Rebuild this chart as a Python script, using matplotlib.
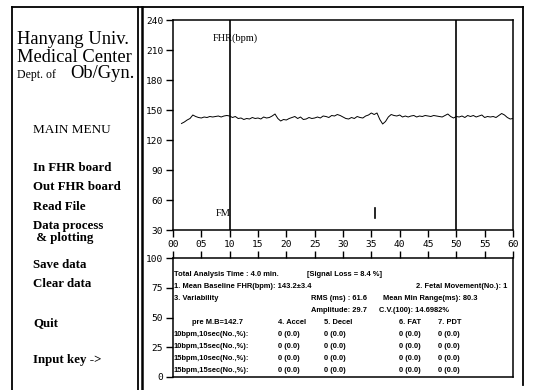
import matplotlib
matplotlib.use('Agg')
import matplotlib.pyplot as plt
import numpy as np

# FHR trace, sampled every 0.5 min starting at 1.5 min
t_start, t_step = 1.5, 0.5
fhr = [136.5, 138.0, 140.0, 141.5, 145.0, 143.5, 142.5, 142.0, 143.0, 142.5,
       143.5, 143.0, 143.5, 144.0, 143.0, 144.0, 144.5, 144.0, 142.5, 143.5,
       141.5, 142.0, 140.5, 141.5, 141.0, 142.5, 141.5, 142.0, 141.0, 143.0,
       142.0, 142.5, 144.0, 146.0, 141.5, 139.0, 140.5, 140.0, 141.5, 142.5,
       143.5, 141.5, 143.0, 140.5, 141.0, 142.5, 141.5, 142.0, 143.0, 142.0,
       144.0, 143.5, 142.5, 144.5, 144.0, 145.5, 144.5, 143.0, 141.5, 141.0,
       142.5, 141.5, 143.5, 142.5, 142.0, 144.0, 145.0, 147.0, 145.5, 147.0,
       140.5, 136.0, 138.5, 143.0, 145.5, 144.5, 144.0, 145.0, 143.0, 144.0,
       143.0, 144.0, 144.5, 143.0, 144.0, 143.5, 144.5, 144.0, 143.5, 144.5,
       144.0, 143.5, 143.0, 144.5, 146.0, 143.5, 142.0, 143.5, 143.0, 144.0,
       142.5, 144.5, 143.5, 144.5, 143.0, 144.0, 145.0, 142.5, 143.5, 143.0,
       143.5, 142.5, 144.5, 146.5, 145.0, 142.5, 141.0, 141.5]
time = t_start + t_step * np.arange(len(fhr))

markers = [10, 50]          # vertical marker lines (min)
fm_times = [35.6]           # fetal movement marks
x_ticks = list(range(0, 61, 5))
x_labels = ['%02d' % v for v in x_ticks]
fhr_ticks = list(range(30, 241, 30))
low_ticks = [0, 25, 50, 75, 100]

menu_items = ['In FHR board', 'Out FHR board', 'Read File', 'Data process\n & plotting',
              'Save data', 'Clear data', 'Quit', 'Input key ->']
menu_y = [168, 187, 207, 232, 265, 284, 323, 360]

row_labels = ['10bpm,10sec(No.,%):', '10bpm,15sec(No.,%):',
              '15bpm,10sec(No.,%):', '15bpm,15sec(No.,%):']
col_heads = ['4. Accel', '5. Decel', '6. FAT', '7. PDT']
counts = [[0, 0, 0, 0]] * 4
pcts = [[0.0, 0.0, 0.0, 0.0]] * 4

W, H = 533, 390
fig = plt.figure(figsize=(W / 100, H / 100), dpi=100)
fig.patch.set_facecolor('white')

# background overlay in pixel coordinates for frames and menu
bg = fig.add_axes([0, 0, 1, 1], zorder=0)
bg.set_xlim(0, W)
bg.set_ylim(H, 0)
bg.axis('off')
k = dict(color='black', lw=1.3)
bg.plot([12, 12], [7, 390], **k)
bg.plot([138, 138], [7, 390], **k)
bg.plot([142, 142], [7, 390], lw=1.8, color='black')
bg.plot([12, 523], [7, 7], **k)
bg.plot([523, 523], [7, 385], **k)

serif = 'Liberation Serif'
bg.text(17, 40, 'Hanyang Univ.', family=serif, fontsize=13.3, va='center')
bg.text(17, 58, 'Medical Center', family=serif, fontsize=13.3, va='center')
bg.text(17, 75, 'Dept. of', family=serif, fontsize=8.5, va='center')
bg.text(70, 74, 'Ob/Gyn.', family=serif, fontsize=13.3, va='center')
bg.text(33, 130, 'MAIN MENU', family=serif, fontsize=9.5, va='center')
for lab, yy in zip(menu_items, menu_y):
    bg.text(33, yy, lab, family=serif, fontsize=9.3, fontweight='bold', va='center',
            linespacing=0.95)

mono = 'DejaVu Sans Mono'
sans = 'Liberation Sans'

# top FHR plot
ax = fig.add_axes([173 / W, 1 - 230 / H, 340 / W, 210 / H], zorder=2)
ax.plot(time, fhr, color='black', lw=0.7)
for m in markers:
    ax.axvline(m, color='black', lw=1.2)
for f in fm_times:
    ax.plot([f, f], [42, 52], color='black', lw=1.2)
ax.set_xlim(0, 60)
ax.set_ylim(30, 240)
ax.set_xticks(x_ticks)
ax.set_xticklabels(x_labels)
ax.set_yticks(fhr_ticks)
ax.tick_params(direction='out', length=5, width=1, labelsize=6.8, pad=2)
for lab in ax.get_xticklabels() + ax.get_yticklabels():
    lab.set_family(mono)
ax.text(7, 222, 'FHR(bpm)', family=serif, fontsize=7.5, va='center')
ax.text(7.5, 47, 'FM', family=serif, fontsize=7.5, va='center')
for s in ax.spines.values():
    s.set_linewidth(1.1)

# lower result panel
bx = fig.add_axes([173 / W, 1 - 377 / H, 340 / W, 119 / H], zorder=2)
bx.set_xlim(0, 60)
bx.set_ylim(0, 100)
bx.set_xticks(x_ticks)
bx.set_xticklabels([])
bx.xaxis.tick_top()
bx.set_yticks(low_ticks)
bx.tick_params(direction='out', length=5, width=1, labelsize=6.8, pad=2)
for lab in bx.get_yticklabels():
    lab.set_family(mono)
for s in bx.spines.values():
    s.set_linewidth(1.1)


def px(x, y):
    # pixel -> data coordinates of the lower panel
    return (x - 173) / 340 * 60, (377 - y) / 119 * 100


def put(x, y, s):
    xx, yy = px(x, y)
    bx.text(xx, yy, s, family=sans, fontsize=5.4, va='center', fontweight='bold')


put(174, 274, 'Total Analysis Time : 4.0 min.')
put(307, 274, '[Signal Loss = 8.4 %]')
put(174, 287, '1. Mean Baseline FHR(bpm): 143.2\u00b13.4')
put(416, 287, '2. Fetal Movement(No.): 1')
put(174, 299, '3. Variability')
put(311, 299, 'RMS (ms) : 61.6')
put(383, 299, 'Mean Min Range(ms): 80.3')
put(311, 311, 'Amplitude: 29.7')
put(379, 311, 'C.V.(100): 14.6982%')
put(192, 322, 'pre M.B=142.7')
col_x = [278, 324, 399, 438]
for cx, h in zip(col_x, col_heads):
    put(cx, 322, h)
row_y = [334, 346, 358, 370]
for i, (ry, rl) in enumerate(zip(row_y, row_labels)):
    put(174, ry, rl)
    for j, cx in enumerate(col_x):
        put(cx, ry, '%d (%.1f)' % (counts[i][j], pcts[i][j]))

fig.savefig('out.png', dpi=100)
